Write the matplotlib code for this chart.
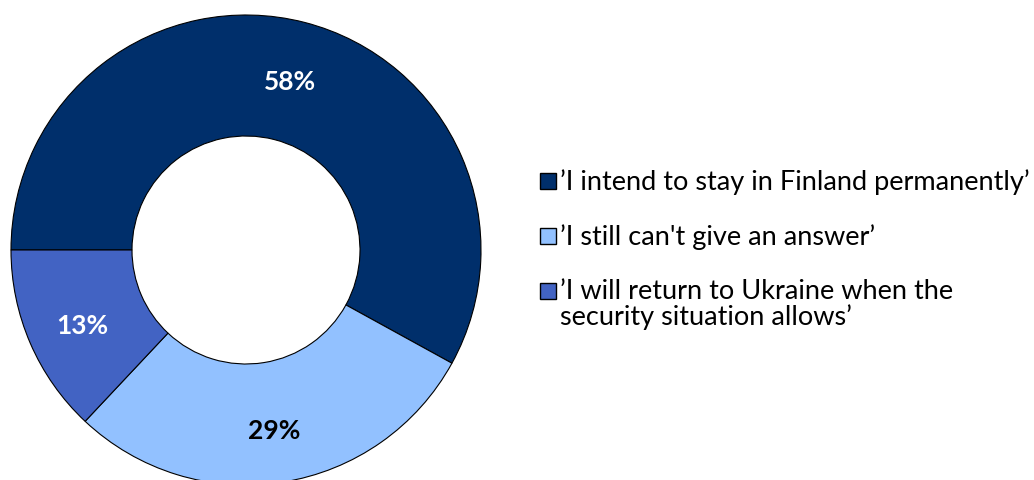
import numpy as np
import matplotlib.pyplot as plt
from matplotlib.patches import Rectangle

labels = ["\u2019I intend to stay in Finland permanently\u2019",
          "\u2019I still can't give an answer\u2019",
          "\u2019I will return to Ukraine when the\nsecurity situation allows\u2019"]
shares = [58, 29, 13]
colors = ['#002f6b', '#92c1ff', '#4263c3']
text_colors = ['white', 'black', 'white']

plt.rcParams['font.family'] = ['Lato', 'DejaVu Sans']

fig = plt.figure(figsize=(10.34, 4.81), dpi=100)
ax = fig.add_axes([0, 0, 1, 1])

cx, cy, R, W = 246, 230, 235, 121

# donut, starting at 9 o'clock and going clockwise
wedges, _ = ax.pie(shares, colors=colors, startangle=180, counterclock=False,
                   center=(cx, cy), radius=R, frame=True,
                   wedgeprops=dict(width=W, edgecolor='black', linewidth=0.8))
ax.set_xlim(0, 1034)
ax.set_ylim(0, 481)
ax.axis('off')

# percentage labels in the middle of each ring segment
for w, val, tc in zip(wedges, shares, text_colors):
    mid = np.deg2rad((w.theta1 + w.theta2) / 2)
    r = R - W / 2 + 4
    ax.text(cx + r * np.cos(mid), cy + r * np.sin(mid) - 4, f'{val}%',
            ha='center', va='center', color=tc, fontsize=19, fontweight='bold')

# legend drawn by hand so the square lines up with the first text line
rows_y = [481 - 182, 481 - 237, 481 - 292]
for ly, lab, c in zip(rows_y, labels, colors):
    ax.add_patch(Rectangle((540, ly - 8), 16, 16, facecolor=c,
                           edgecolor='black', linewidth=1))
    ax.text(560, ly + 13, lab, ha='left', va='top', fontsize=19.5,
            color='black', linespacing=1.02)

fig.savefig('out.png', dpi=100)
